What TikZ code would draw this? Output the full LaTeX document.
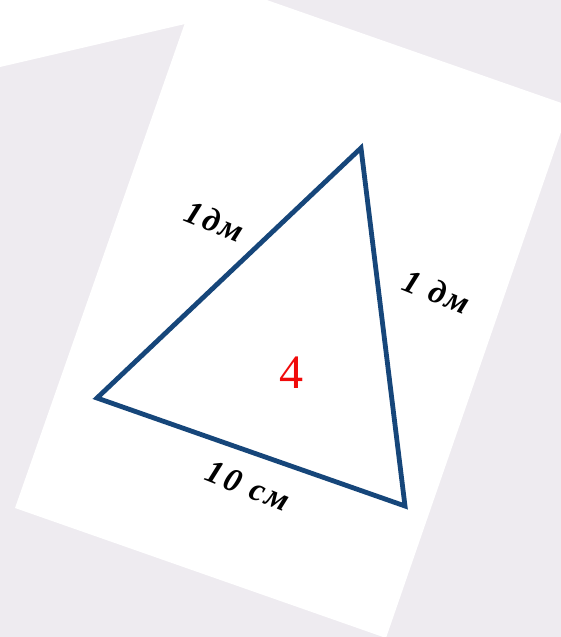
\documentclass[tikz,border=0pt]{standalone}
\usepackage{fontspec}
\setmainfont{Liberation Serif}
\definecolor{bgtex}{RGB}{238,235,240}
\definecolor{navy}{RGB}{22,70,122}
\definecolor{redfour}{RGB}{240,10,10}
\tikzset{
  side/.style={draw=navy, line width=4.8pt, line join=miter},
  lenlabel/.style={font=\fontsize{33}{34}\selectfont\bfseries\itshape\addfontfeature{LetterSpace=8}, text=black, inner sep=0pt, rotate=-22},
}
\begin{document}
\begin{tikzpicture}[x=1pt,y=-1pt]
  \useasboundingbox (0,0) rectangle (561,637);
  \clip (0,0) rectangle (561,637);
  % textured background
  \fill[bgtex] (0,0) rectangle (561,637);
  % white area at top left
  \fill[white] (0,0) -- (206,0) -- (185,24) -- (0,67) -- cycle;
  % rotated sheet of paper
  \fill[white] (201,-23) -- (570,106) -- (386,638) -- (15,508) -- cycle;
  % triangle
  \coordinate (A) at (361,148);
  \coordinate (B) at (97,398);
  \coordinate (C) at (405,506);
  \draw[side] (A) -- (B) -- (C) -- cycle;
  % labels
  \node[lenlabel] (l1) at (215,221) {1дм};
  \node[lenlabel] (l2) at (437,292) {1 дм};
  \node[lenlabel] (l3) at (248,486) {10 см};
  \node[text=redfour, font=\fontsize{48}{50}\selectfont, inner sep=0pt] (n4) at (291,373) {4};
\end{tikzpicture}
\end{document}
